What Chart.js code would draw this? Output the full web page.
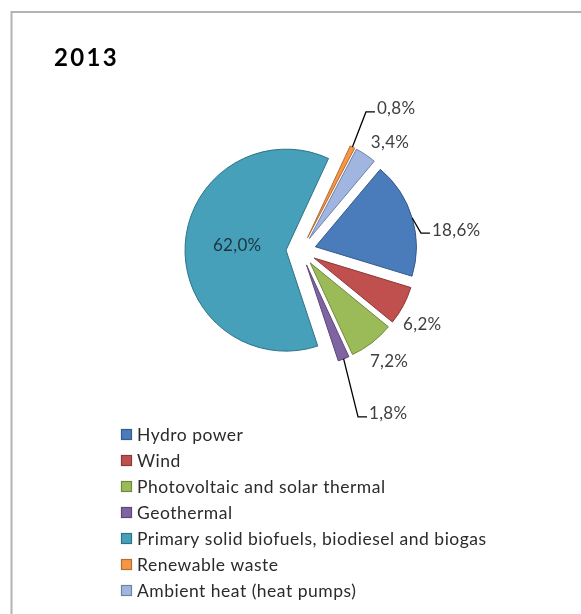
<!DOCTYPE html>
<html>
<head>
<meta charset="utf-8">
<script src="https://cdn.jsdelivr.net/npm/chart.js@4.4.1/dist/chart.umd.min.js"></script>
<style>
html,body{margin:0;padding:0;background:#fff;}
#wrap{width:581px;height:614px;position:relative;}
canvas{display:block;}
</style>
</head>
<body>
<div id="wrap"><canvas id="c" width="581" height="614"></canvas></div>
<script>
// ---------- data ----------
const chartTitle = '2013';
const categories = [
  'Hydro power',
  'Wind',
  'Photovoltaic and solar thermal',
  'Geothermal',
  'Primary solid biofuels, biodiesel and biogas',
  'Renewable waste',
  'Ambient heat (heat pumps)'
];
const shares = [18.6, 6.2, 7.2, 1.8, 62.0, 0.8, 3.4];

// ---------- styles ----------
const fillColors   = ['#4A7BBA', '#C0504D', '#9BBB59', '#8064A2', '#46A0B9', '#F79646', '#A0B5DF'];
const borderColors = ['#365C8A', '#8C3836', '#71893F', '#5C4776', '#2F7388', '#B66D31', '#6F82AA'];
const explode = 15;       // px each slice is pulled out
const pieRadius = 101;
// label placement: kind, angle shift (deg) from slice middle / absolute compass angle, distance from pie centre
const labelPlacement = [
  {kind: 'leader', angle: 82.1, dist: 130.2},
  {kind: 'outside', dA: 3.2, dist: 142},
  {kind: 'outside', dA: -0.9, dist: 141},
  {kind: 'leader', angle: 158.3, dist: 178.6},
  {kind: 'inside', dA: 1.2, dist: 64},
  {kind: 'leader', angle: 28.0, dist: 157.5},
  {kind: 'outside', dA: 5.6, dist: 140}
];

const fmt = v => v.toFixed(1).replace('.', ',') + '%';

// compass (deg, clockwise from top) -> unit vector in canvas coords
const dirC = a => [Math.sin(a * Math.PI / 180), -Math.cos(a * Math.PI / 180)];

const framePlugin = {
  id: 'frame',
  beforeDraw(chart) {
    const ctx = chart.ctx;
    ctx.save();
    ctx.fillStyle = '#fff';
    ctx.fillRect(0, 0, chart.width, chart.height);
    ctx.strokeStyle = '#b3b3b3';
    ctx.lineWidth = 2;
    ctx.beginPath();
    ctx.moveTo(11.5, chart.height);
    ctx.lineTo(11.5, 12);
    ctx.lineTo(chart.width, 12);
    ctx.stroke();
    // title
    ctx.fillStyle = '#000';
    ctx.font = 'bold 24px Lato';
    ctx.letterSpacing = '2.3px';
    ctx.textBaseline = 'alphabetic';
    ctx.textAlign = 'left';
    ctx.fillText(chartTitle, 54, 66);
    ctx.restore();
  }
};

// draw each arc pulled out along its bisector (exploded pie)
const explodePlugin = {
  id: 'explode',
  beforeDatasetDraw(chart, args) {
    const meta = args.meta;
    const ctx = chart.ctx;
    meta.data.forEach(arc => {
      const mid = (arc.startAngle + arc.endAngle) / 2;
      ctx.save();
      ctx.translate(Math.cos(mid) * explode, Math.sin(mid) * explode);
      arc.draw(ctx);
      ctx.restore();
    });
    return false;
  }
};

const labelPlugin = {
  id: 'sliceLabels',
  afterDatasetsDraw(chart) {
    const ctx = chart.ctx;
    const meta = chart.getDatasetMeta(0);
    const vals = chart.data.datasets[0].data;
    ctx.save();
    ctx.font = '17px Lato';
    ctx.letterSpacing = '0.3px';
    meta.data.forEach((arc, i) => {
      const cx = arc.x, cy = arc.y;
      const midRad = (arc.startAngle + arc.endAngle) / 2;
      const midC = midRad * 180 / Math.PI + 90; // to compass
      const p = labelPlacement[i];
      const txt = fmt(vals[i]);
      if (p.kind === 'inside' || p.kind === 'outside') {
        const d = dirC(midC + p.dA);
        ctx.fillStyle = p.kind === 'inside' ? '#1B3440' : '#404040';
        ctx.textAlign = 'center';
        ctx.textBaseline = 'middle';
        ctx.fillText(txt, cx + d[0] * p.dist, cy + d[1] * p.dist);
      } else {
        const dm = dirC(midC);
        const r = arc.outerRadius + explode;
        const sx = cx + dm[0] * r, sy = cy + dm[1] * r;
        const de = dirC(p.angle);
        const ex = cx + de[0] * p.dist, ey = cy + de[1] * p.dist;
        const kx = ex - 9;
        ctx.strokeStyle = '#000';
        ctx.lineWidth = 1.3;
        ctx.beginPath();
        ctx.moveTo(sx, sy);
        ctx.lineTo(kx, ey);
        ctx.lineTo(ex, ey);
        ctx.stroke();
        ctx.fillStyle = '#404040';
        ctx.textAlign = 'left';
        ctx.textBaseline = 'middle';
        ctx.fillText(txt, ex + 2, ey - 3);
      }
    });
    ctx.restore();
  }
};

const legendPlugin = {
  id: 'stackedLegend',
  afterDraw(chart) {
    const ctx = chart.ctx;
    const ds = chart.data.datasets[0];
    const left = 121, top = 434.5, step = 26, box = 11;
    ctx.save();
    ctx.font = '17.5px Lato';
    ctx.letterSpacing = '0.5px';
    ctx.textBaseline = 'middle';
    ctx.textAlign = 'left';
    chart.data.labels.forEach((lab, i) => {
      const y = top + i * step;
      ctx.fillStyle = ds.backgroundColor[i];
      ctx.fillRect(left, y - box / 2, box, box);
      ctx.strokeStyle = ds.borderColor[i];
      ctx.lineWidth = 1.2;
      ctx.strokeRect(left + 0.5, y - box / 2 + 0.5, box - 1, box - 1);
      ctx.fillStyle = '#2b2b2b';
      ctx.fillText(lab, left + 16, y + 1);
    });
    ctx.restore();
  }
};

new Chart(document.getElementById('c'), {
  type: 'pie',
  data: {
    labels: categories,
    datasets: [{
      data: shares,
      backgroundColor: fillColors,
      borderColor: borderColors,
      borderWidth: 1,
      offset: 0,
      hoverOffset: 0,
      radius: pieRadius
    }]
  },
  options: {
    responsive: false,
    animation: false,
    events: [],
    rotation: 40,
    layout: {padding: {left: 200, right: 179, top: 150, bottom: 262}},
    plugins: {
      legend: {display: false},
      tooltip: {enabled: false},
      title: {display: false}
    }
  },
  plugins: [framePlugin, explodePlugin, labelPlugin, legendPlugin]
});
</script>
</body>
</html>
